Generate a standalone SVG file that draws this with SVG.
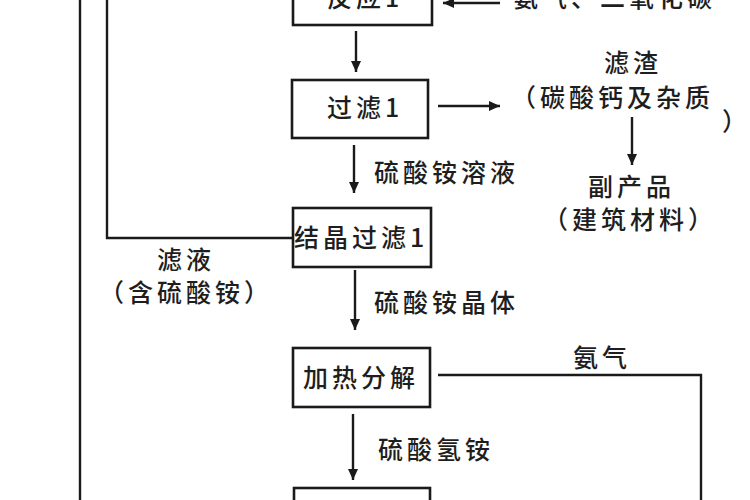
<svg xmlns="http://www.w3.org/2000/svg" width="750" height="500" viewBox="0 0 750 500">
<style>
.box{fill:#fff;stroke:#1a1a1a;stroke-width:2.6}
.ln{fill:none;stroke:#1a1a1a;stroke-width:2.4}
text{font-family:"Noto Sans CJK SC","Noto Sans",sans-serif;font-size:25px;font-weight:500;letter-spacing:4px;fill:#1e1e1e}
</style>
<defs>
<marker id="ah" markerUnits="userSpaceOnUse" markerWidth="12" markerHeight="12" viewBox="0 0 12 12" refX="11" refY="6" orient="auto">
<path d="M0,1 L11,6 L0,11 Z" fill="#1a1a1a"/>
</marker>
</defs>
<rect width="750" height="500" fill="#fff"/>
<g id="connectors">
<line class="ln" x1="80" y1="0" x2="80" y2="500"/>
<polyline class="ln" points="107,0 107,238 293,238"/>
<line class="ln" x1="356" y1="31" x2="356" y2="72" marker-end="url(#ah)"/>
<line class="ln" x1="354" y1="145" x2="354" y2="193" marker-end="url(#ah)"/>
<line class="ln" x1="438" y1="106" x2="500" y2="106" marker-end="url(#ah)"/>
<line class="ln" x1="632" y1="117" x2="632" y2="165" marker-end="url(#ah)"/>
<line class="ln" x1="355" y1="270" x2="355" y2="330" marker-end="url(#ah)"/>
<line class="ln" x1="353" y1="414" x2="353" y2="480" marker-end="url(#ah)"/>
<polyline class="ln" points="438,375 701,375 701,500"/>
<line class="ln" x1="500" y1="3" x2="443" y2="3" marker-end="url(#ah)"/>
</g>
<g id="n-react1">
<rect class="box" x="293" y="-40" width="139" height="65"/>
<text x="327" y="7">反应1</text>
</g>
<g id="n-gas-in">
<text x="513" y="7">氨气、二氧化碳</text>
</g>
<g id="n-filter1">
<rect class="box" x="292" y="80" width="136" height="58"/>
<text x="327" y="117">过滤1</text>
</g>
<g id="n-residue">
<text x="604" y="72">滤渣</text>
<text x="511" y="107">（碳酸钙及杂质</text>
<text x="722" y="131">）</text>
</g>
<g id="n-byproduct">
<text x="588" y="196">副产品</text>
<text x="543" y="229">（建筑材料）</text>
</g>
<g id="n-crystal">
<rect class="box" x="293" y="208" width="138" height="59"/>
<text x="294" y="247">结晶过滤1</text>
</g>
<g id="n-filtrate">
<text x="157" y="269">滤液</text>
<text x="99" y="302">（含硫酸铵）</text>
</g>
<g id="n-heat">
<rect class="box" x="293" y="348" width="137" height="59"/>
<text x="303" y="387">加热分解</text>
</g>
<g id="n-bottom">
<rect class="box" x="294" y="488" width="136" height="40"/>
</g>
<g id="labels">
<text x="374" y="182">硫酸铵溶液</text>
<text x="374" y="312">硫酸铵晶体</text>
<text x="573" y="367">氨气</text>
<text x="378" y="459">硫酸氢铵</text>
</g>
</svg>
